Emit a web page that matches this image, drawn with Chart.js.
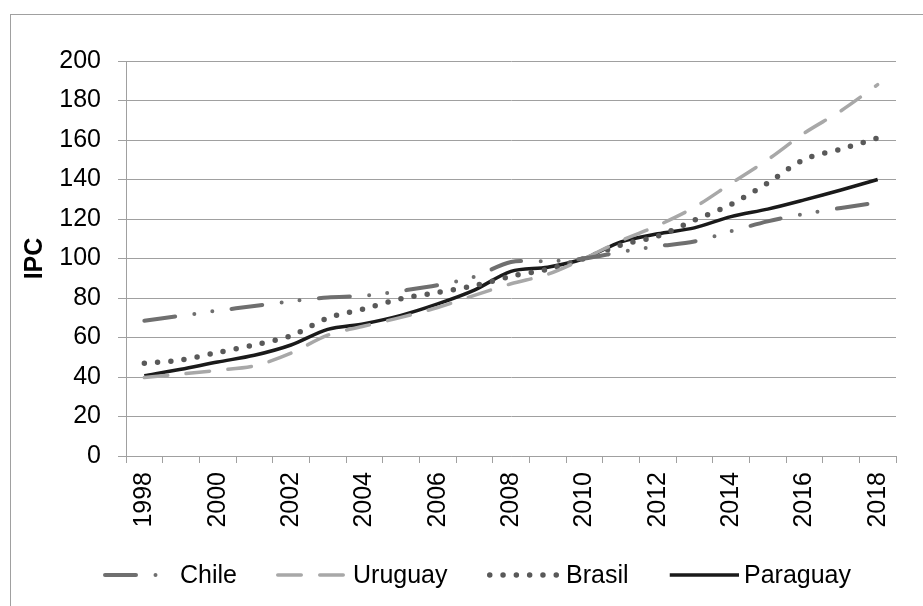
<!DOCTYPE html>
<html lang="es">
<head>
    <meta charset="UTF-8">
    <title>IPC</title>
    <script src="https://cdn.jsdelivr.net/npm/chart.js"></script>
    <style>
        body { margin: 0; background: #ffffff; }
        #grafico { display: block; }
    </style>
</head>
<body>
    <canvas id="grafico" width="923" height="606"></canvas>

<script>
    // datos (2010 = 100)
    var anios = ['1998','1999','2000','2001','2002','2003','2004','2005','2006','2007','2008',
                 '2009','2010','2011','2012','2013','2014','2015','2016','2017','2018'];

    var chile    = [68.5, 71, 73.6, 75.9, 78.3, 80.3, 81.1, 83.6, 86.5, 90.8, 98.2,
                    98.6, 100, 103.3, 106.2, 108.6, 113.8, 118.8, 122.6, 125.6, 128.4];
    var uruguay  = [39.7, 41.5, 43.4, 45.6, 52.1, 61.2, 65.8, 70.2, 75.2, 81.3, 87.2,
                    92, 100, 109, 116.7, 125.9, 138, 150, 163.5, 174.8, 188];
    var brasil   = [47, 48.6, 52.4, 56.2, 60.9, 69.8, 74.6, 79.6, 82.8, 86.2, 91,
                    94.5, 100, 106.8, 111.4, 119.4, 127.4, 138.2, 150.2, 155.4, 161];
    var paraguay = [40.6, 43.9, 47.6, 51, 56.2, 64.1, 67, 71.2, 77, 84, 93.5,
                    95.6, 100, 108.4, 112.5, 115.5, 121.2, 125, 129.7, 134.7, 140];

    var yMin = 0, yMax = 200, yPaso = 20;

    var gris = '#a0a0a0';
    var fuente = '"Liberation Sans", Arial, sans-serif';

    // marco y leyenda dibujados a mano
    var marco = {
        id: 'marco',
        beforeDraw: function (chart) {
            var ctx = chart.ctx;
            ctx.save();
            ctx.strokeStyle = gris;
            ctx.lineWidth = 1;
            ctx.strokeRect(10.5, 14.5, 1000, 1000);
            ctx.restore();
        }
    };

    var posLeyenda = [
        { x0: 103, x1: 173, tx: 180 },
        { x0: 276, x1: 346, tx: 353 },
        { x0: 487, x1: 557, tx: 566 },
        { x0: 668, x1: 739, tx: 744 }
    ];

    var leyenda = {
        id: 'leyenda',
        afterDraw: function (chart) {
            var ctx = chart.ctx;
            var y = 575;
            chart.data.datasets.forEach(function (ds, i) {
                var p = posLeyenda[i];
                ctx.save();
                ctx.strokeStyle = ds.borderColor;
                ctx.lineWidth = ds.borderWidth;
                ctx.lineCap = ds.borderCapStyle || 'butt';
                ctx.setLineDash(ds.borderDash || []);
                ctx.beginPath();
                ctx.moveTo(p.x0 + ds.borderWidth / 2, y);
                ctx.lineTo(p.x1, y);
                ctx.stroke();
                ctx.setLineDash([]);
                ctx.fillStyle = '#000000';
                ctx.font = '25px ' + fuente;
                ctx.textAlign = 'left';
                ctx.textBaseline = 'middle';
                ctx.fillText(ds.label, p.tx, y + 1);
                ctx.restore();
            });
        }
    };

    var dados = {
        labels: anios,
        datasets: [
            {
                label: 'Chile',
                data: chile,
                borderColor: '#6f6f6f',
                borderWidth: 4,
                borderCapStyle: 'round',
                borderDash: [31, 19.5, 0, 18, 0, 19.5]
            },
            {
                label: 'Uruguay',
                data: uruguay,
                borderColor: '#a8a8a8',
                borderWidth: 3.5,
                borderCapStyle: 'round',
                borderDash: [23.5, 18.5]
            },
            {
                label: 'Brasil',
                data: brasil,
                borderColor: '#595959',
                borderWidth: 5.5,
                borderCapStyle: 'round',
                borderDash: [0, 13.3]
            },
            {
                label: 'Paraguay',
                data: paraguay,
                borderColor: '#1a1a1a',
                borderWidth: 3.5
            }
        ]
    };

    var config = {
        type: 'line',
        data: dados,
        options: {
            responsive: false,
            animation: false,
            devicePixelRatio: 1,
            layout: { padding: { left: 0, right: 27, top: 61, bottom: 0 } },
            elements: {
                point: { radius: 0, hoverRadius: 0 },
                line: { tension: 0.3, fill: false }
            },
            plugins: {
                legend: { display: false },
                tooltip: { enabled: false }
            },
            scales: {
                x: {
                    offset: true,
                    grid: {
                        offset: true,
                        drawOnChartArea: false,
                        drawTicks: true,
                        tickLength: 7,
                        color: gris
                    },
                    border: { display: true, color: gris },
                    ticks: {
                        autoSkip: false,
                        minRotation: 90,
                        maxRotation: 90,
                        padding: 9,
                        color: '#000000',
                        font: { family: fuente, size: 25 },
                        callback: function (valor, indice) {
                            return indice % 2 === 0 ? anios[indice] : '';
                        }
                    },
                    afterFit: function (escala) { escala.height = 150; }
                },
                y: {
                    min: yMin,
                    max: yMax,
                    grid: {
                        color: gris,
                        tickLength: 8
                    },
                    border: { display: true, color: gris },
                    ticks: {
                        stepSize: yPaso,
                        padding: 17,
                        color: '#000000',
                        font: { family: fuente, size: 25 }
                    },
                    title: {
                        display: true,
                        text: 'IPC',
                        color: '#000000',
                        padding: { top: 20, bottom: 0 },
                        font: { family: fuente, size: 25, weight: 'bold' }
                    },
                    afterFit: function (escala) { escala.width = 126; }
                }
            }
        },
        plugins: [marco, leyenda]
    };

    var myChart = new Chart(document.getElementById('grafico'), config);
</script>
</body>
</html>
